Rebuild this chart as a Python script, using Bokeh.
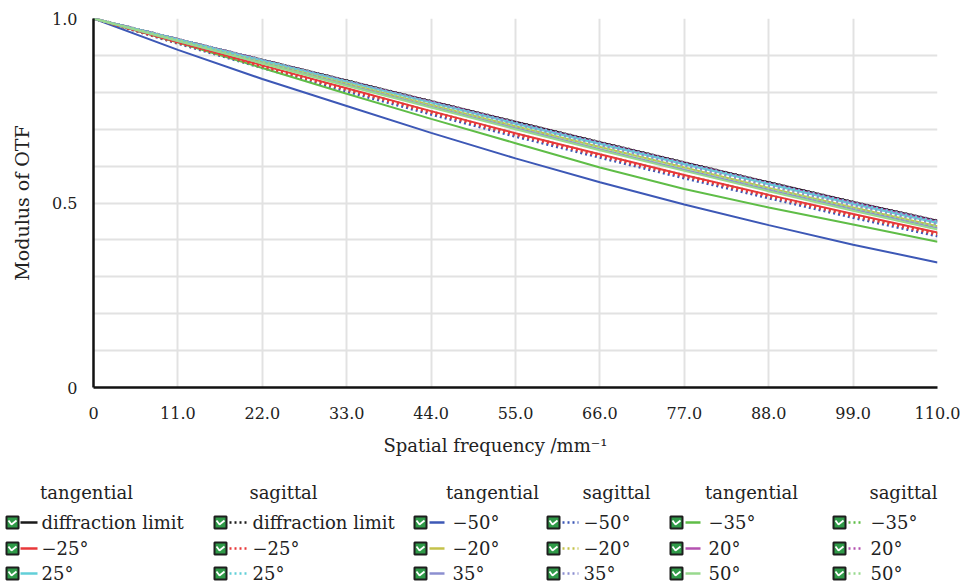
from bokeh.plotting import figure
from bokeh.models import FixedTicker, Range1d, Title
from bokeh.embed import file_html
from bokeh.resources import INLINE
from bokeh.core.properties import value

# ---------------- data ----------------
freq = [0, 11, 22, 33, 44, 55, 66, 77, 88, 99, 110]
x_ticks = [0, 11, 22, 33, 44, 55, 66, 77, 88, 99, 110]
x_tick_labels = ["0", "11.0", "22.0", "33.0", "44.0", "55.0", "66.0", "77.0", "88.0", "99.0", "110.0"]
y_ticks = [0, 0.5, 1.0]
y_tick_labels = ["0", "0.5", "1.0"]

diff_T = [1.0, 0.944, 0.888, 0.832, 0.776, 0.720, 0.665, 0.610, 0.556, 0.503, 0.452]
diff_S = [1.0, 0.944, 0.888, 0.832, 0.776, 0.720, 0.665, 0.610, 0.556, 0.503, 0.452]
m50_T = [1.0, 0.915, 0.836, 0.763, 0.690, 0.621, 0.556, 0.496, 0.440, 0.387, 0.339]
m50_S = [1.0, 0.932, 0.866, 0.802, 0.740, 0.680, 0.623, 0.567, 0.513, 0.460, 0.410]
m35_T = [1.0, 0.935, 0.866, 0.796, 0.728, 0.662, 0.596, 0.538, 0.488, 0.442, 0.395]
m35_S = [1.0, 0.935, 0.872, 0.809, 0.748, 0.688, 0.631, 0.575, 0.521, 0.468, 0.418]
m25_T = [1.0, 0.936, 0.873, 0.811, 0.749, 0.689, 0.632, 0.576, 0.522, 0.470, 0.420]
m25_S = [1.0, 0.934, 0.870, 0.807, 0.745, 0.685, 0.628, 0.572, 0.518, 0.465, 0.415]
m20_T = [1.0, 0.941, 0.882, 0.824, 0.766, 0.708, 0.652, 0.596, 0.541, 0.488, 0.437]
m20_S = [1.0, 0.942, 0.883, 0.825, 0.768, 0.710, 0.654, 0.599, 0.544, 0.491, 0.440]
p20_T = [1.0, 0.944, 0.887, 0.830, 0.774, 0.717, 0.662, 0.607, 0.553, 0.500, 0.449]
p20_S = [1.0, 0.944, 0.888, 0.831, 0.775, 0.719, 0.664, 0.609, 0.555, 0.502, 0.451]
p25_T = [1.0, 0.943, 0.886, 0.829, 0.772, 0.715, 0.660, 0.605, 0.551, 0.497, 0.446]
p25_S = [1.0, 0.944, 0.887, 0.830, 0.773, 0.717, 0.662, 0.607, 0.553, 0.500, 0.449]
p35_T = [1.0, 0.939, 0.879, 0.820, 0.761, 0.703, 0.646, 0.590, 0.536, 0.483, 0.432]
p35_S = [1.0, 0.943, 0.885, 0.827, 0.770, 0.713, 0.657, 0.602, 0.547, 0.494, 0.443]
p50_T = [1.0, 0.939, 0.878, 0.818, 0.759, 0.700, 0.643, 0.587, 0.532, 0.479, 0.428]
p50_S = [1.0, 0.942, 0.883, 0.825, 0.767, 0.708, 0.651, 0.595, 0.540, 0.487, 0.436]

names = ["diffraction limit", "\u221250\u00b0", "\u221235\u00b0", "\u221225\u00b0", "\u221220\u00b0",
         "20\u00b0", "25\u00b0", "35\u00b0", "50\u00b0"]
colors = ["#1a1a1a", "#3d58b6", "#5fbd47", "#e8383a", "#c4c24a",
          "#b452b0", "#62cfd8", "#8c8fd0", "#98d98e"]
tang = [diff_T, m50_T, m35_T, m25_T, m20_T, p20_T, p25_T, p35_T, p50_T]
sag = [diff_S, m50_S, m35_S, m25_S, m20_S, p20_S, p25_S, p35_S, p50_S]

FONT = "DejaVu Serif"
DOT = "2 3"
TXT = "#222222"

# ---------------- main plot ----------------
p = figure(frame_width=844, frame_height=369, output_backend="svg", toolbar_location=None,
           x_range=Range1d(0, 110), y_range=Range1d(0, 1.0),
           min_border_left=93, min_border_right=30, min_border_top=18, min_border_bottom=83)
p.outline_line_color = None
p.background_fill_color = "white"

p.xaxis.ticker = FixedTicker(ticks=x_ticks)
p.xaxis.major_label_overrides = {t: l for t, l in zip(x_ticks, x_tick_labels)}
p.yaxis.ticker = FixedTicker(ticks=y_ticks, minor_ticks=[0.1, 0.2, 0.3, 0.4, 0.6, 0.7, 0.8, 0.9])
p.yaxis.major_label_overrides = {t: l for t, l in zip(y_ticks, y_tick_labels)}

for ax in (p.xaxis, p.yaxis):
    ax.axis_line_color = "#111111"
    ax.axis_line_width = 2.5
    ax.major_tick_line_color = None
    ax.minor_tick_line_color = None
    ax.major_label_text_font = FONT
    ax.major_label_text_font_size = "16px"
    ax.major_label_text_color = TXT
    ax.axis_label_text_font = FONT
    ax.axis_label_text_font_size = "19px"
    ax.axis_label_text_font_style = "normal"
    ax.axis_label_text_color = TXT
p.xaxis.major_label_standoff = 13
p.yaxis.major_label_standoff = 10
p.yaxis.axis_label = "Modulus of OTF"
p.yaxis.axis_label_standoff = 16

xt = Title(text="Spatial frequency /mm\u207b\u00b9", align="left", offset=290, standoff=23,
           text_font=FONT, text_font_size="18px", text_font_style="normal", text_color=TXT)
p.add_layout(xt, "below")

p.xgrid.grid_line_color = "#e2e2e2"
p.xgrid.grid_line_width = 2
p.ygrid.grid_line_color = "#e2e2e2"
p.ygrid.grid_line_width = 2
p.ygrid.minor_grid_line_color = "#e2e2e2"
p.ygrid.minor_grid_line_width = 2

for c, t, s in zip(colors, tang, sag):
    p.line(freq, t, line_color=c, line_width=2)
    p.line(freq, s, line_color=c, line_width=2.5, line_dash=DOT)

# ---------------- legend (separate root, page-pixel coordinates) ----------------
lg = figure(width=967, height=114, output_backend="svg", toolbar_location=None,
            x_range=Range1d(0, 967), y_range=Range1d(584, 470),
            min_border=0, min_border_left=0, min_border_right=0, min_border_top=0, min_border_bottom=0)
lg.axis.visible = False
lg.grid.visible = False
lg.outline_line_color = None

headers = ["tangential", "sagittal", "tangential", "sagittal", "tangential", "sagittal"]
header_x = [86, 283, 492, 616, 751, 903]
box_x = [12, 220, 420, 553, 676, 839]
seg_x0 = [20, 229, 429, 562, 685, 848]
seg_x1 = [37, 246, 444, 578, 700, 863]
text_x = [41, 252, 452, 583, 708, 870]
row_y = [522, 548, 573]
header_y = 492
col_items = [[0, 3, 6], [0, 3, 6], [1, 4, 7], [1, 4, 7], [2, 5, 8], [2, 5, 8]]

lg.text(x=header_x, y=[header_y] * 6, text=headers, text_font=value(FONT),
        text_font_size="18px", text_align="center", text_baseline="middle", text_color=TXT)

for ci in range(6):
    sagittal = ci % 2 == 1
    for ri, idx in enumerate(col_items[ci]):
        y = row_y[ri]
        bx = box_x[ci]
        lg.rect(x=[bx], y=[y], width=12, height=12, fill_color="#2f9a48",
                line_color="#1e1e1e", line_width=2)
        lg.line(x=[bx - 4, bx - 1, bx + 4], y=[y - 2, y + 2, y - 2],
                line_color="white", line_width=1.8)
        lg.line(x=[seg_x0[ci], seg_x1[ci]], y=[y, y], line_color=colors[idx], line_width=2.5,
                line_dash=DOT if sagittal else "solid")
        lg.text(x=[text_x[ci]], y=[y], text=[names[idx]], text_font=value(FONT),
                text_font_size="18px", text_align="left", text_baseline="middle", text_color=TXT)

open("out.html", "w").write(file_html([p, lg], INLINE))
